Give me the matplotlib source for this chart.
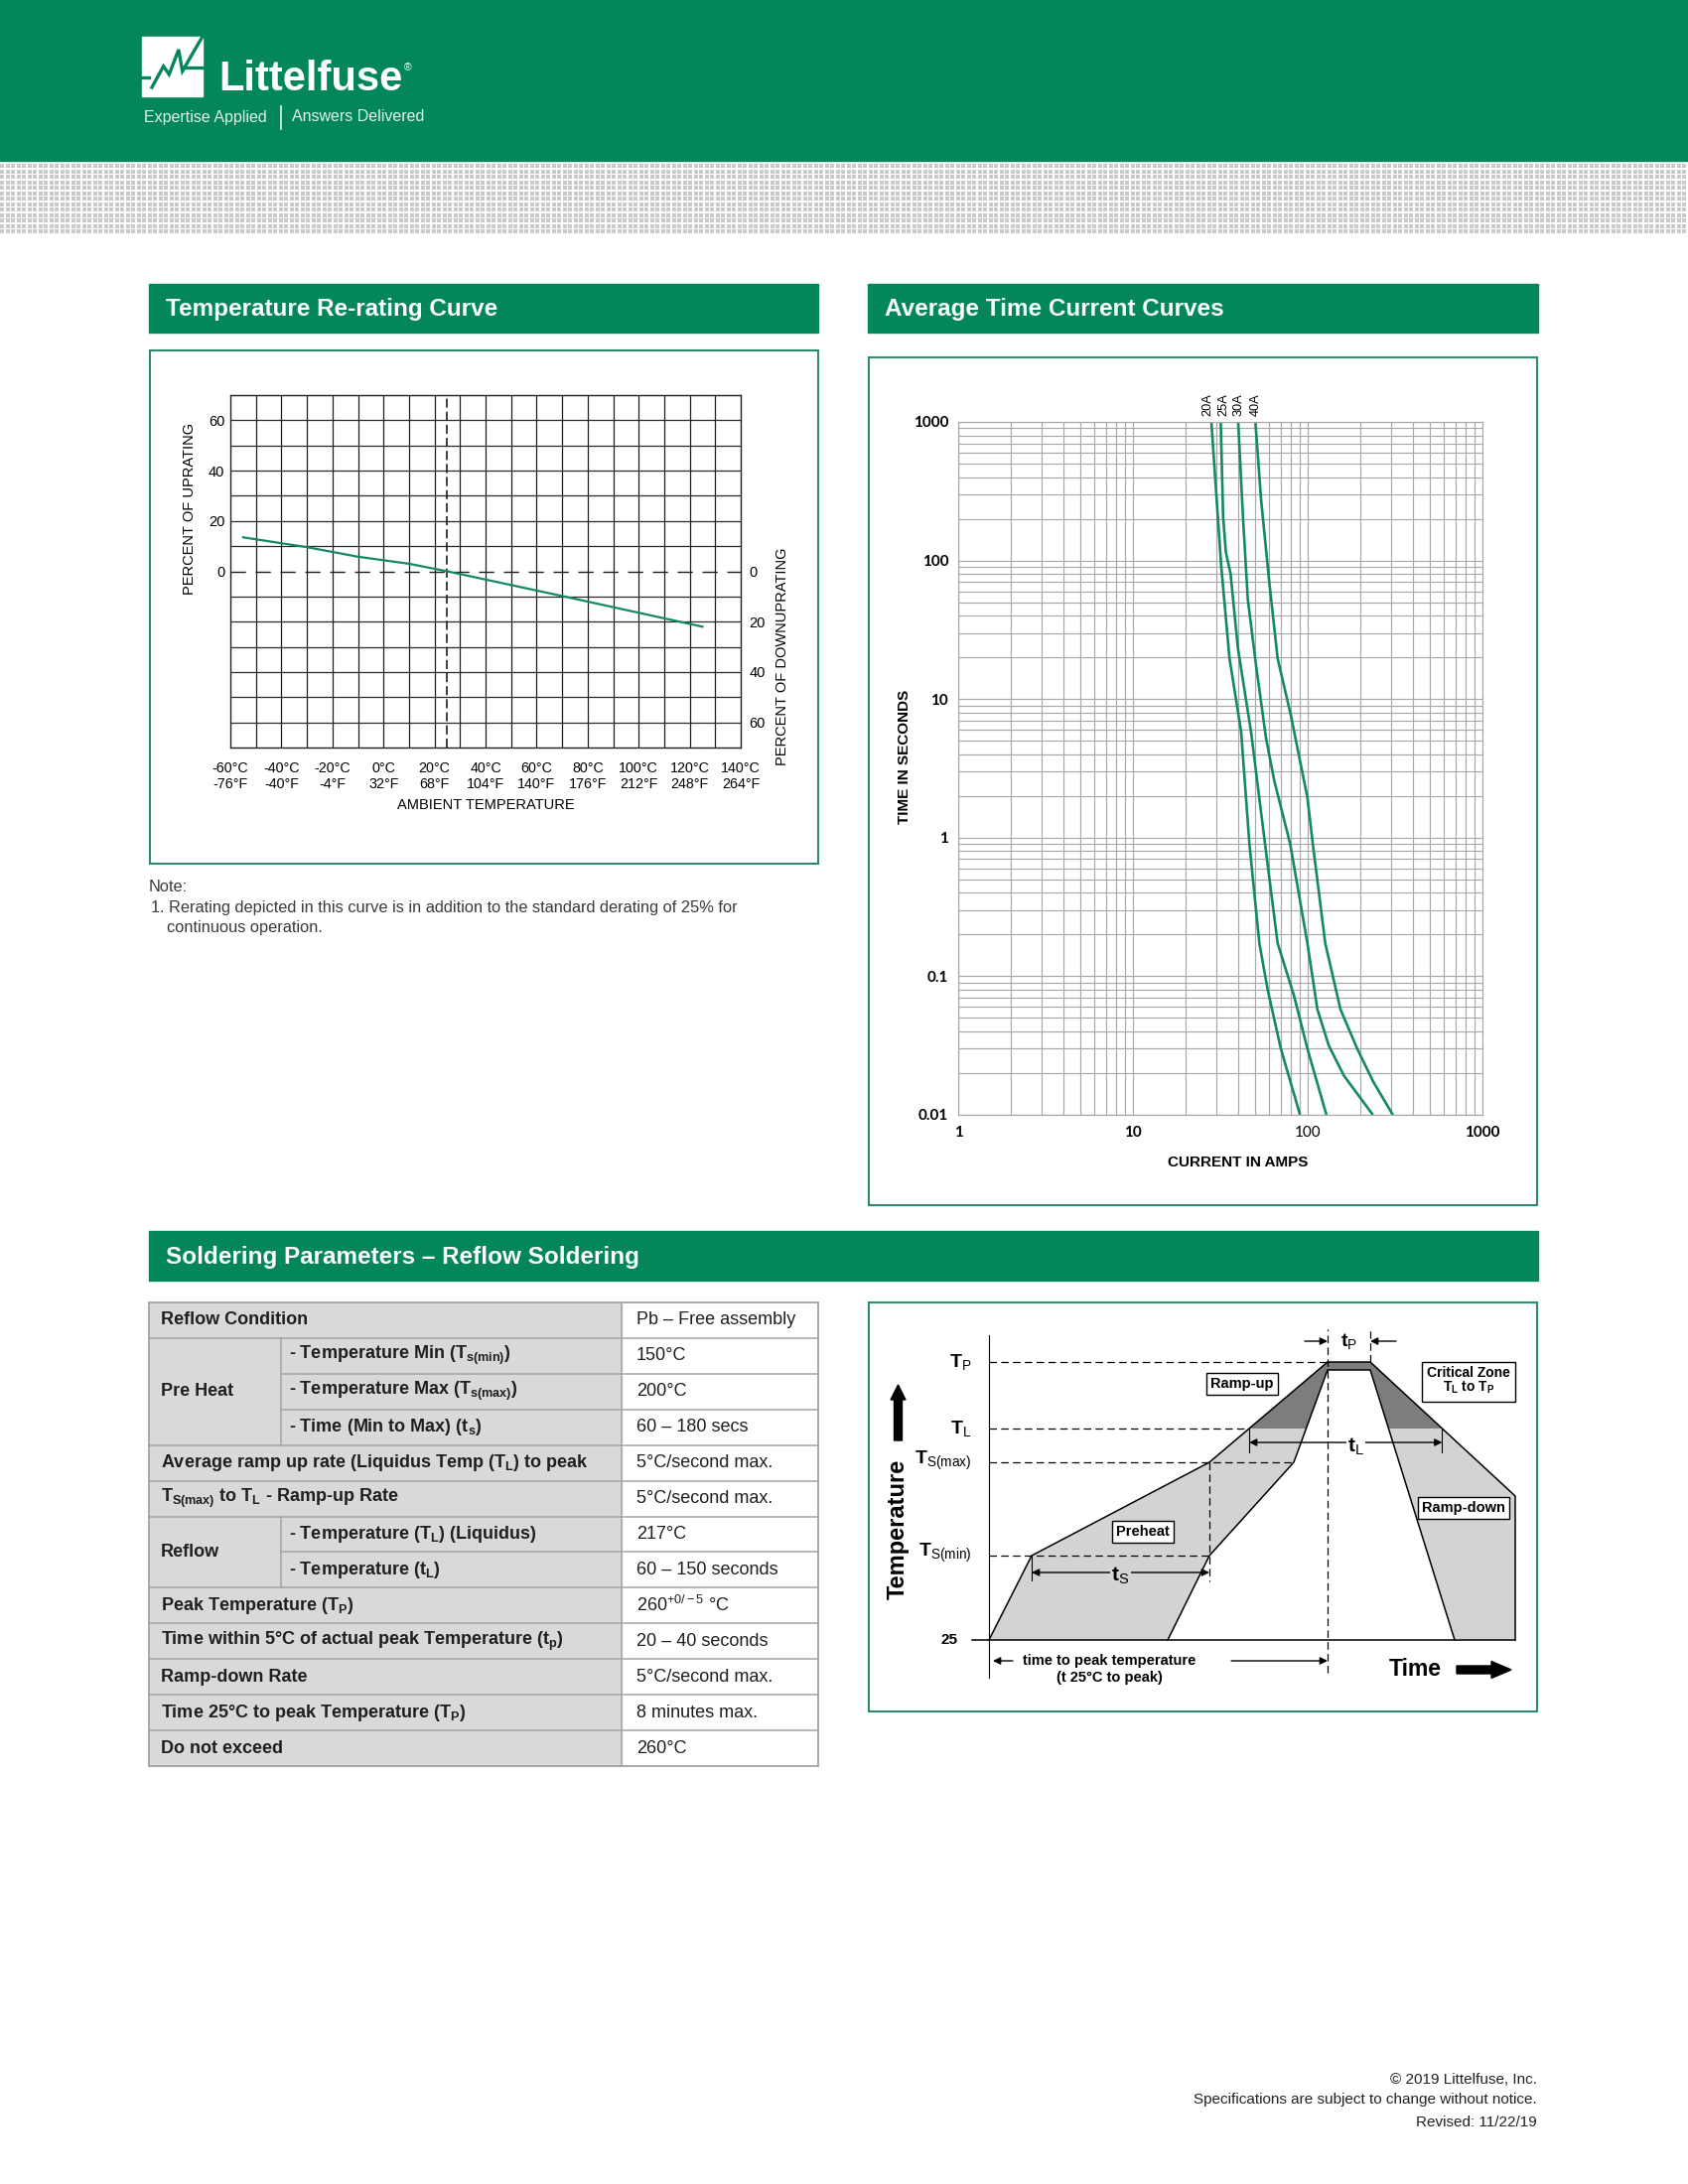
import numpy as np
import matplotlib
matplotlib.use("Agg")
import matplotlib.pyplot as plt
from matplotlib import font_manager
from matplotlib.patches import Rectangle, Polygon, FancyArrow
from matplotlib.ticker import FixedLocator, LogLocator, NullFormatter

# fonts: narrow family if it is there
names = {f.name for f in font_manager.fontManager.ttflist}
NARROW = "Liberation Sans Narrow" if "Liberation Sans Narrow" in names else "Liberation Sans"
SANS = "Liberation Sans"
plt.rcParams["font.family"] = [SANS, "DejaVu Sans"]
plt.rcParams["mathtext.fontset"] = "custom"
plt.rcParams["mathtext.rm"] = SANS
plt.rcParams["mathtext.bf"] = SANS + ":bold"
plt.rcParams["mathtext.it"] = SANS + ":italic"

GREEN = "#02865a"
BOX_EDGE = "#2b8c6c"
CURVE = "#148a5e"

# ---- Temperature re-rating curve data ----
TEMP_C = [-60, -40, -20, 0, 20, 40, 60, 80, 100, 120, 140]
TEMP_F = ["-76°F", "-40°F", "-4°F", "32°F", "68°F", "104°F", "140°F", "176°F", "212°F", "248°F", "264°F"]
UP_TICKS = [0, 20, 40, 60]
DOWN_TICKS = [0, 20, 40, 60]
RERATE_T = [-55, -30, -10, 10, 25, 70, 125]
RERATE_PCT = [13.5, 9.6, 5.8, 3.0, 0.0, -9.8, -22.0]

# ---- Average time current curves (amps, seconds) ----
RATINGS = ["20A", "25A", "30A", "40A"]
AMPS_20A = [28.1, 32.0, 35.7, 41.6, 46.4, 52.9, 59.0, 70.2, 90.4]
SECS_20A = [1000, 91, 19.6, 5.8, 0.90, 0.173, 0.080, 0.030, 0.010]
AMPS_25A = [31.8, 32.8, 34.0, 36.2, 39.9, 47.4, 57.0, 67.3, 83.6, 99.6, 128]
SECS_25A = [1000, 208, 115, 80, 23.1, 5.8, 0.90, 0.173, 0.072, 0.030, 0.010]
AMPS_30A = [40.0, 42.6, 45.4, 50.6, 57.7, 64.4, 79.4, 99.6, 113.6, 132, 161, 236]
SECS_30A = [1000, 208, 52.8, 17.6, 5.25, 2.57, 0.90, 0.173, 0.0577, 0.0316, 0.0192, 0.010]
AMPS_40A = [50.2, 54.1, 60.3, 67.3, 80.0, 99.6, 107, 126, 154, 192, 238, 307]
SECS_40A = [1000, 275, 69.5, 19.6, 7.7, 1.95, 0.90, 0.173, 0.0577, 0.030, 0.0172, 0.010]
X_TICKS = [1, 10, 100, 1000]
X_TICK_BOLD = [True, True, False, True]
Y_TICKS = [0.01, 0.1, 1, 10, 100, 1000]
Y_LABELS = ["0.01", "0.1", "1", "10", "100", "1000"]

# ---- Soldering table ----
ROW_GROUP = ["", "Pre Heat", "Pre Heat", "Pre Heat", "", "", "Reflow", "Reflow", "", "", "", "", ""]
ROW_LABEL = [
    "Reflow Condition",
    r"- Temperature Min (T$_{\mathbf{s(min)}}$)",
    r"- Temperature Max (T$_{\mathbf{s(max)}}$)",
    r"- Time (Min to Max) (t$_{\mathbf{s}}$)",
    r"Average ramp up rate (Liquidus Temp (T$_{\mathbf{L}}$) to peak",
    r"T$_{\mathbf{S(max)}}$ to T$_{\mathbf{L}}$ - Ramp-up Rate",
    r"- Temperature (T$_{\mathbf{L}}$) (Liquidus)",
    r"- Temperature (t$_{\mathbf{L}}$)",
    r"Peak Temperature (T$_{\mathbf{P}}$)",
    r"Time within 5°C of actual peak Temperature (t$_{\mathbf{p}}$)",
    "Ramp-down Rate",
    r"Time 25°C to peak Temperature (T$_{\mathbf{P}}$)",
    "Do not exceed",
]
ROW_VALUE = [
    "Pb – Free assembly", "150°C", "200°C", "60 – 180 secs", "5°C/second max.",
    "5°C/second max.", "217°C", "60 – 150 seconds", r"260$^{+0/-5}$ °C",
    "20 – 40 seconds", "5°C/second max.", "8 minutes max.", "260°C",
]

# ---- Reflow profile schematic (diagram units) ----
LEVEL_25, LEVEL_SMIN, LEVEL_SMAX, LEVEL_L, LEVEL_P, LEVEL_P_IN, LEVEL_END = 73, 158, 252, 286, 353, 345, 218
T_START, T_SMIN, T_IN0, T_SMAX, T_IN_SMAX, T_P1, T_P2, T_RD_IN, T_END = 122, 165, 302, 344, 429, 463, 506, 591, 652

W, H = 1700, 2200
fig = plt.figure(figsize=(W / 100, H / 100), dpi=100)
page = fig.add_axes([0, 0, 1, 1])


def px_axes(x0, y0, x1, y1):
    return fig.add_axes([x0 / W, 1 - y1 / H, (x1 - x0) / W, (y1 - y0) / H])


# header band
page.add_patch(Rectangle((0, 0), W, 162, color=GREEN, zorder=0))
ii, jj = np.mgrid[0:70, 0:W]
pattern = np.where(((jj % 5.5) < 3.6) & ((ii % 5.5) < 3.6), 0.79, 1.0)
page.imshow(pattern, cmap="gray", vmin=0, vmax=1, extent=(0, W, 235, 165),
            interpolation="nearest", aspect="auto", zorder=0)
page.set_xlim(0, W)
page.set_ylim(H, 0)
page.axis("off")

# logo
page.add_patch(Rectangle((143, 37), 61, 60, color="white", zorder=2))
page.plot([153, 164.6, 170.3, 179.9, 183.7, 191.4, 204], [88, 66.7, 75, 50, 71.7, 58.3, 36.7],
          color=GREEN, lw=2.4, zorder=3, solid_joinstyle="miter")
page.plot([186, 204], [68, 68], color=GREEN, lw=2.4, zorder=3)
page.plot([143, 150], [78, 78], color=GREEN, lw=2.4, zorder=3)
brand = page.text(220, 91, "Littelfuse", color="white", fontsize=30, fontweight="bold",
                  family=NARROW, va="baseline", ha="left")
page.annotate("®", xy=(1, 0.92), xycoords=brand, xytext=(1.5, 0), textcoords="offset points",
              color="white", fontsize=7.5, va="top", ha="left")
page.text(145, 118, "Expertise Applied", color="#e2f3ea", fontsize=11.5, family=NARROW, va="center")
page.text(294, 118, "Answers Delivered", color="#e2f3ea", fontsize=11.5, family=NARROW, va="center")
page.plot([283, 283], [107, 130], color="#e2f3ea", lw=1.2)

# section title bars
for x0, y0, w, h, title in [(150, 286, 674, 49, "Temperature Re-rating Curve"),
                            (874, 286, 675, 49, "Average Time Current Curves"),
                            (150, 1240, 1399, 50, "Soldering Parameters – Reflow Soldering")]:
    page.add_patch(Rectangle((x0, y0), w, h, color=GREEN, zorder=1))
    page.text(x0 + 17, y0 + h / 2 + 1, title, color="white", fontsize=17.5,
              fontweight="bold", va="center", ha="left", zorder=2)

# framed boxes
for x0, y0, x1, y1 in [(151, 353, 824, 870), (875, 360, 1548, 1214), (875, 1312, 1548, 1724)]:
    page.add_patch(Rectangle((x0, y0), x1 - x0, y1 - y0, fill=False, ec=BOX_EDGE, lw=1.5, zorder=2))

# ---------------- Temperature re-rating curve ----------------
ax1 = px_axes(232, 398, 746, 753)
ax1.patch.set_alpha(0)
ax1.set_xlim(-60, 140)
ax1.set_ylim(-70, 70)
for x in range(-50, 140, 10):
    ax1.axvline(x, color="#1e1e1e", lw=0.9, zorder=1)
for y in range(-60, 70, 10):
    if y != 0:
        ax1.axhline(y, color="#2a2a2a", lw=0.9, zorder=1)
ax1.axhline(0, color="#1e1e1e", lw=1.0, ls=(0, (11, 7)), zorder=2)
ax1.axvline(25, color="#1e1e1e", lw=1.2, ls=(0, (5.5, 2.4)), zorder=2)
ax1.plot(RERATE_T, RERATE_PCT, color=CURVE, lw=1.6, zorder=4)
for s in ax1.spines.values():
    s.set_color("#1e1e1e")
    s.set_linewidth(1.0)
ax1.set_xticks(TEMP_C)
ax1.set_xticklabels([f"{c}°C\n{f}" for c, f in zip(TEMP_C, TEMP_F)],
                    family=NARROW, fontsize=10.3, linespacing=1.15)
ax1.set_yticks(UP_TICKS)
ax1.set_yticklabels([str(v) for v in UP_TICKS], family=NARROW, fontsize=10.5)
ax1.tick_params(length=0)
ax1.tick_params(axis="x", pad=10)
ax1.tick_params(axis="y", pad=4)
ax1r = ax1.twinx()
ax1r.set_ylim(-70, 70)
ax1r.set_yticks([-v for v in DOWN_TICKS])
ax1r.set_yticklabels([str(v) for v in DOWN_TICKS], family=NARROW, fontsize=10.5)
ax1r.tick_params(length=0, pad=6)
for s in ax1r.spines.values():
    s.set_visible(False)
page.text(191, 512, "PERCENT OF UPRATING", rotation=90, ha="center", va="center",
          family=NARROW, fontsize=10.5)
page.text(788, 661, "PERCENT OF DOWNUPRATING", rotation=90, ha="center", va="center",
          family=NARROW, fontsize=10.5)
page.text(489, 811, "AMBIENT TEMPERATURE", ha="center", va="center", family=NARROW, fontsize=10.5)

# note
NOTE_KW = dict(fontsize=11.8, color="#3a3a3a", va="center")
page.text(150, 894, "Note:", **NOTE_KW)
page.text(152, 914, "1. Rerating depicted in this curve is in addition to the standard derating of 25% for", **NOTE_KW)
page.text(168, 934, "continuous operation.", **NOTE_KW)

# ---------------- Average time current curves ----------------
ax2 = px_axes(965, 425, 1493, 1123)
ax2.patch.set_alpha(0)
ax2.set_xscale("log")
ax2.set_yscale("log")
ax2.set_xlim(1, 1000)
ax2.set_ylim(0.01, 1000)
ax2.xaxis.set_major_locator(FixedLocator(X_TICKS))
ax2.xaxis.set_minor_locator(LogLocator(base=10, subs=np.arange(2, 10)))
ax2.yaxis.set_major_locator(FixedLocator(Y_TICKS))
ax2.yaxis.set_minor_locator(LogLocator(base=10, subs=np.arange(2, 10), numticks=20))
ax2.xaxis.set_minor_formatter(NullFormatter())
ax2.yaxis.set_minor_formatter(NullFormatter())
ax2.grid(which="both", color="#a9a9a9", lw=0.85)
ax2.set_axisbelow(True)
for s in ax2.spines.values():
    s.set_color("#a9a9a9")
    s.set_linewidth(0.85)
ax2.tick_params(which="both", length=0)
ax2.tick_params(axis="x", pad=8)
ax2.tick_params(axis="y", pad=7)
ax2.set_xticklabels([str(v) for v in X_TICKS], family="Lato", fontsize=11)
for lbl, b in zip(ax2.get_xticklabels(), X_TICK_BOLD):
    lbl.set_fontweight("bold" if b else "normal")
ax2.set_yticklabels(Y_LABELS, family="Lato", fontsize=11, fontweight="bold")
label_nudge = [-2.3, 1.9, 0.2, 0.0]  # points, keeps the packed labels apart
for name, amps, secs, dx in zip(RATINGS, [AMPS_20A, AMPS_25A, AMPS_30A, AMPS_40A],
                                [SECS_20A, SECS_25A, SECS_30A, SECS_40A], label_nudge):
    ax2.plot(amps, secs, color=CURVE, lw=1.9, solid_capstyle="butt")
    ax2.annotate(name, xy=(amps[0], secs[0]), xytext=(dx, 4), textcoords="offset points",
                 rotation=90, ha="center", va="bottom", fontsize=9.2, annotation_clip=False)
page.text(911, 762, "TIME IN SECONDS", rotation=90, ha="center", va="center",
          fontsize=11, fontweight="bold")
page.text(1247, 1171, "CURRENT IN AMPS", ha="center", va="center", fontsize=11, fontweight="bold")

# ---------------- Soldering parameter table ----------------
TX0, TX1, TMID, TSUB = 150, 824, 626, 283
TY0, RH = 1312, 467 / 13
n = len(ROW_LABEL)
page.add_patch(Rectangle((TX0, TY0), TMID - TX0, RH * n, color="#d9d9d9", zorder=1))
LINE = "#a3a3a3"
for i in range(n):
    yc = TY0 + (i + 0.5) * RH
    grp = ROW_GROUP[i]
    x_lab = TSUB + 8 if grp else TX0 + 12
    page.text(x_lab, yc, ROW_LABEL[i], fontsize=13, fontweight="bold", va="center", color="#1f1f1f", zorder=3)
    page.text(TMID + 15, yc, ROW_VALUE[i], fontsize=13, va="center", color="#1f1f1f", zorder=3)
    if i > 0:
        same = grp != "" and grp == ROW_GROUP[i - 1]
        page.plot([TSUB if same else TX0, TX1], [TY0 + i * RH] * 2, color=LINE, lw=1.1, zorder=2)
for grp in ["Pre Heat", "Reflow"]:
    idx = [i for i, g in enumerate(ROW_GROUP) if g == grp]
    ytop, ybot = TY0 + idx[0] * RH, TY0 + (idx[-1] + 1) * RH
    page.text(TX0 + 12, (ytop + ybot) / 2, grp, fontsize=13, fontweight="bold", va="center", color="#1f1f1f", zorder=3)
    page.plot([TSUB, TSUB], [ytop, ybot], color=LINE, lw=1.1, zorder=2)
page.plot([TMID, TMID], [TY0, TY0 + n * RH], color=LINE, lw=1.1, zorder=2)
page.add_patch(Rectangle((TX0, TY0), TX1 - TX0, RH * n, fill=False, ec=LINE, lw=1.3, zorder=2))

# ---------------- Reflow profile diagram ----------------
dax = px_axes(874, 1312, 1549, 1725)
dax.set_xlim(0, 675)
dax.set_ylim(0, 413)
dax.axis("off")
outer_t = [T_START, T_SMIN, T_SMAX, T_P1, T_P2, T_END, T_END]
outer_v = [LEVEL_25, LEVEL_SMIN, LEVEL_SMAX, LEVEL_P, LEVEL_P, LEVEL_END, LEVEL_25]
inner_t = [T_IN0, T_SMAX, T_IN_SMAX, T_P1, T_P2, T_RD_IN]
inner_v = [LEVEL_25, LEVEL_SMIN, LEVEL_SMAX, LEVEL_P_IN, LEVEL_P_IN, LEVEL_25]
band = list(zip(outer_t, outer_v)) + list(zip(inner_t, inner_v))[::-1]
dax.add_patch(Polygon(band, closed=True, fc="#d3d3d3", ec="none", zorder=1))
dark = Polygon(band, closed=True, fc="#7d7d7f", ec="none", zorder=2)
dax.add_patch(dark)
dark.set_clip_path(Rectangle((0, LEVEL_L), 675, 200, transform=dax.transData))
dax.plot(outer_t, outer_v, color="black", lw=1.1, zorder=3)
dax.plot(inner_t, inner_v, color="black", lw=1.1, zorder=3)
dax.plot([105, T_END], [LEVEL_25, LEVEL_25], color="black", lw=1.1, zorder=3)
dax.plot([T_START, T_START], [35, 380], color="black", lw=0.8, zorder=3)

tl_left = np.interp(LEVEL_L, [LEVEL_SMAX, LEVEL_P], [T_SMAX, T_P1])
tl_right = np.interp(LEVEL_L, [LEVEL_END, LEVEL_P], [T_END, T_P2])
dash = dict(color="black", lw=0.9, ls=(0, (6, 3.5)), zorder=4)
dax.plot([T_START, T_P1], [LEVEL_P, LEVEL_P], **dash)
dax.plot([T_START, tl_left], [LEVEL_L, LEVEL_L], **dash)
dax.plot([T_START, T_IN_SMAX], [LEVEL_SMAX, LEVEL_SMAX], **dash)
dax.plot([T_START, T_SMAX], [LEVEL_SMIN, LEVEL_SMIN], **dash)
dax.plot([T_SMAX, T_SMAX], [LEVEL_SMAX, 132], **dash)
dax.plot([T_P1, T_P1], [40, 386], **dash)
dax.plot([T_P2, T_P2], [LEVEL_P, 388], **dash)

arr = dict(arrowstyle="-|>", color="black", lw=1.0, mutation_scale=11, shrinkA=0, shrinkB=0)
arr2 = dict(arrowstyle="<|-|>", color="black", lw=1.0, mutation_scale=11, shrinkA=0, shrinkB=0)
# tp
dax.annotate("", xy=(T_P1, 374), xytext=(T_P1 - 23, 374), arrowprops=arr)
dax.annotate("", xy=(T_P2, 374), xytext=(T_P2 + 26, 374), arrowprops=arr)
dax.text((T_P1 + T_P2) / 2, 374, r"$\mathbf{t}_{\mathrm{P}}$", fontsize=14, ha="center", va="center")
# tL
dax.annotate("", xy=(tl_left, 272), xytext=(tl_right, 272), arrowprops=arr2)
dax.plot([tl_left, tl_left], [262, LEVEL_L], color="black", lw=0.8)
dax.plot([tl_right, tl_right], [262, LEVEL_L], color="black", lw=0.8)
dax.text((T_P1 + T_P2) / 2 + 7, 268, r"$\mathbf{t}_{\mathrm{L}}$", fontsize=15, ha="center", va="center",
         bbox=dict(fc="white", ec="none", pad=1), zorder=5)
# tS
dax.annotate("", xy=(T_SMIN, 141), xytext=(T_SMAX, 141), arrowprops=arr2)
dax.plot([T_SMIN, T_SMIN], [133, LEVEL_SMIN], color="black", lw=0.8)
dax.text((T_SMIN + T_SMAX) / 2, 138, r"$\mathbf{t}_{\mathrm{S}}$", fontsize=15, ha="center", va="center",
         bbox=dict(fc="#d3d3d3", ec="none", pad=1), zorder=5)
# time to peak
dax.annotate("", xy=(T_START + 4, 52), xytext=(T_START + 24, 52), arrowprops=arr)
dax.annotate("", xy=(T_P1, 52), xytext=(T_P1 - 97, 52), arrowprops=arr)
dax.text(243, 52, "time to peak temperature", family=NARROW, fontweight="bold", fontsize=10.5,
         ha="center", va="center")
dax.text(243, 35, "(t 25°C to peak)", family=NARROW, fontweight="bold", fontsize=10.5,
         ha="center", va="center")

# level labels
for lvl, lab in [(LEVEL_P, r"$\mathbf{T}_{\mathrm{P}}$"), (LEVEL_L, r"$\mathbf{T}_{\mathrm{L}}$"),
                 (LEVEL_SMAX + 2, r"$\mathbf{T}_{\mathrm{S(max)}}$"),
                 (LEVEL_SMIN + 3, r"$\mathbf{T}_{\mathrm{S(min)}}$")]:
    dax.text(104, lvl, lab, fontsize=14, ha="right", va="center")
dax.text(90, LEVEL_25, "25", fontsize=11, fontweight="bold", family=NARROW, ha="right", va="center")

box = dict(boxstyle="square,pad=0.3", fc="white", ec="black", lw=1.0)
dax.text(377, 331, "Ramp-up", family=NARROW, fontweight="bold", fontsize=10.5, ha="center", va="center", bbox=box, zorder=6)
dax.text(605, 334, "Critical Zone\n" + r"T$_{\mathbf{L}}$ to T$_{\mathbf{P}}$", family=NARROW, fontweight="bold",
         fontsize=10, ha="center", va="center", bbox=dict(boxstyle="square,pad=0.4", fc="white", ec="black", lw=1.0),
         linespacing=1.0, zorder=6)
dax.text(600, 206, "Ramp-down", family=NARROW, fontweight="bold", fontsize=10.5, ha="center", va="center", bbox=box, zorder=6)
dax.text(277, 182, "Preheat", family=NARROW, fontweight="bold", fontsize=10.5, ha="center", va="center", bbox=box, zorder=6)

dax.text(30.5, 185, "Temperature", rotation=90, family=NARROW, fontweight="bold", fontsize=17,
         ha="center", va="center")
dax.add_patch(FancyArrow(30.5, 274, 0, 56, width=8, head_width=15, head_length=15,
                         length_includes_head=True, color="black"))
dax.text(551, 43, "Time", family=NARROW, fontweight="bold", fontsize=16.5, ha="center", va="center")
dax.add_patch(FancyArrow(593, 43, 55, 0, width=8, head_width=17, head_length=20,
                         length_includes_head=True, color="black"))

# footer
for y, line in [(2095, "© 2019 Littelfuse, Inc."),
                (2115, "Specifications are subject to change without notice."),
                (2138, "Revised: 11/22/19")]:
    page.text(1548, y, line, family=NARROW, fontsize=11, ha="right", va="center", color="#222222")

fig.savefig("out.png", dpi=100)
